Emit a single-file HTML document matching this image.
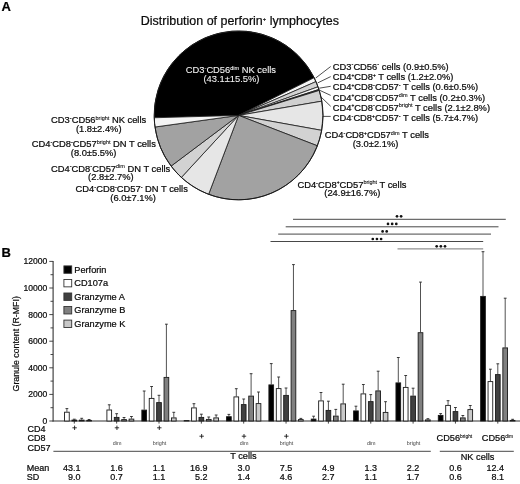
<!DOCTYPE html>
<html><head><meta charset="utf-8"><title>Figure</title>
<style>
html,body{margin:0;padding:0;background:#fff;}
body{width:520px;height:484px;overflow:hidden;font-family:"Liberation Sans",sans-serif;}
svg{display:block;will-change:transform;}
</style></head><body>
<svg width="520" height="484" viewBox="0 0 520 484">
<rect width="520" height="484" fill="#fff"/>
<path d="M238.60,115.40 L154.23,117.76 A84.4,84.4 0 0 1 314.13,77.74 Z" fill="#000000" stroke="#1a1a1a" stroke-width="0.8" stroke-linejoin="round"/>
<path d="M238.60,115.40 L314.13,77.74 A84.4,84.4 0 0 1 315.94,81.61 Z" fill="#f6f6f6" stroke="#1a1a1a" stroke-width="0.8" stroke-linejoin="round"/>
<path d="M238.60,115.40 L315.94,81.61 A84.4,84.4 0 0 1 318.01,86.81 Z" fill="#d2d2d2" stroke="#1a1a1a" stroke-width="0.8" stroke-linejoin="round"/>
<path d="M238.60,115.40 L318.01,86.81 A84.4,84.4 0 0 1 318.91,89.46 Z" fill="#f6f6f6" stroke="#1a1a1a" stroke-width="0.8" stroke-linejoin="round"/>
<path d="M238.60,115.40 L318.91,89.46 A84.4,84.4 0 0 1 319.23,90.44 Z" fill="#555555" stroke="#1a1a1a" stroke-width="0.8" stroke-linejoin="round"/>
<path d="M238.60,115.40 L319.23,90.44 A84.4,84.4 0 0 1 321.79,101.18 Z" fill="#d0d0d0" stroke="#1a1a1a" stroke-width="0.8" stroke-linejoin="round"/>
<path d="M238.60,115.40 L321.79,101.18 A84.4,84.4 0 0 1 321.67,130.35 Z" fill="#e6e6e6" stroke="#1a1a1a" stroke-width="0.8" stroke-linejoin="round"/>
<path d="M238.60,115.40 L321.67,130.35 A84.4,84.4 0 0 1 317.34,145.78 Z" fill="#d2d2d2" stroke="#1a1a1a" stroke-width="0.8" stroke-linejoin="round"/>
<path d="M238.60,115.40 L317.34,145.78 A84.4,84.4 0 0 1 208.63,194.30 Z" fill="#a2a2a2" stroke="#1a1a1a" stroke-width="0.8" stroke-linejoin="round"/>
<path d="M238.60,115.40 L208.63,194.30 A84.4,84.4 0 0 1 181.36,177.43 Z" fill="#e6e6e6" stroke="#1a1a1a" stroke-width="0.8" stroke-linejoin="round"/>
<path d="M238.60,115.40 L181.36,177.43 A84.4,84.4 0 0 1 171.11,166.08 Z" fill="#d2d2d2" stroke="#1a1a1a" stroke-width="0.8" stroke-linejoin="round"/>
<path d="M238.60,115.40 L171.11,166.08 A84.4,84.4 0 0 1 155.00,127.00 Z" fill="#a2a2a2" stroke="#1a1a1a" stroke-width="0.8" stroke-linejoin="round"/>
<path d="M238.60,115.40 L155.00,127.00 A84.4,84.4 0 0 1 154.23,117.76 Z" fill="#f4f4f4" stroke="#1a1a1a" stroke-width="0.8" stroke-linejoin="round"/>
<circle cx="238.6" cy="115.4" r="84.4" fill="none" stroke="#1a1a1a" stroke-width="1"/>
<line x1="315.6" y1="78.1" x2="330.7" y2="66.5" stroke="#222" stroke-width="0.8"/>
<line x1="317.7" y1="82.9" x2="330.7" y2="76.6" stroke="#222" stroke-width="0.8"/>
<line x1="319.2" y1="88.2" x2="330.7" y2="86.3" stroke="#222" stroke-width="0.8"/>
<line x1="319.9" y1="90.4" x2="330.7" y2="95.4" stroke="#222" stroke-width="0.8"/>
<line x1="320.9" y1="96.9" x2="330.7" y2="106.3" stroke="#222" stroke-width="0.8"/>
<line x1="322.8" y1="116.4" x2="330.7" y2="116.4" stroke="#222" stroke-width="0.8"/>
<text x="1.6" y="11.3" font-family="Liberation Sans, sans-serif" font-size="13" text-anchor="start" fill="#000" stroke="#000" stroke-width="0.22" font-weight="bold" xml:space="preserve" >A</text>
<text x="1.4" y="256.6" font-family="Liberation Sans, sans-serif" font-size="13" text-anchor="start" fill="#000" stroke="#000" stroke-width="0.22" font-weight="bold" xml:space="preserve" >B</text>
<text x="140.8" y="25.4" font-family="Liberation Sans, sans-serif" font-size="12.47" text-anchor="start" fill="#0a0a0a" stroke="#0a0a0a" stroke-width="0.22" font-weight="normal" xml:space="preserve" >Distribution of perforin<tspan font-size="5.8" dy="-4.80">+</tspan><tspan dy="4.80"> lymphocytes</tspan></text>
<text x="185.8" y="73.3" font-family="Liberation Sans, sans-serif" font-size="9.35" text-anchor="start" fill="#f4f4f4" stroke="#f4f4f4" stroke-width="0.08" font-weight="normal" xml:space="preserve" >CD3<tspan font-size="5.6" dy="-3.30">-</tspan><tspan dy="3.30">CD56</tspan><tspan font-size="5.5" dy="-3.40" stroke-width="0.08">dim</tspan><tspan dy="3.40"> NK cells</tspan></text>
<text x="231.4" y="82.2" font-family="Liberation Sans, sans-serif" font-size="9.35" text-anchor="middle" fill="#f4f4f4" stroke="#f4f4f4" stroke-width="0.08" font-weight="normal" xml:space="preserve" >(43.1±15.5%)</text>
<text x="332.8" y="69.7" font-family="Liberation Sans, sans-serif" font-size="9.35" text-anchor="start" fill="#0a0a0a" stroke="#0a0a0a" stroke-width="0.22" font-weight="normal" xml:space="preserve" >CD3<tspan font-size="5.6" dy="-3.30">-</tspan><tspan dy="3.30">CD56</tspan><tspan font-size="5.6" dy="-3.30">-</tspan><tspan dy="3.30"> cells (0.9±0.5%)</tspan></text>
<text x="332.8" y="80.0" font-family="Liberation Sans, sans-serif" font-size="9.35" text-anchor="start" fill="#0a0a0a" stroke="#0a0a0a" stroke-width="0.22" font-weight="normal" xml:space="preserve" >CD4<tspan font-size="4.8" dy="-3.40">+</tspan><tspan dy="3.40">CD8</tspan><tspan font-size="4.8" dy="-3.40">+</tspan><tspan dy="3.40"> T cells (1.2±2.0%)</tspan></text>
<text x="332.8" y="90.3" font-family="Liberation Sans, sans-serif" font-size="9.35" text-anchor="start" fill="#0a0a0a" stroke="#0a0a0a" stroke-width="0.22" font-weight="normal" xml:space="preserve" >CD4<tspan font-size="4.8" dy="-3.40">+</tspan><tspan dy="3.40">CD8</tspan><tspan font-size="5.6" dy="-3.30">-</tspan><tspan dy="3.30">CD57</tspan><tspan font-size="5.6" dy="-3.30">-</tspan><tspan dy="3.30"> T cells (0.6±0.5%)</tspan></text>
<text x="332.8" y="100.5" font-family="Liberation Sans, sans-serif" font-size="9.35" text-anchor="start" fill="#0a0a0a" stroke="#0a0a0a" stroke-width="0.22" font-weight="normal" xml:space="preserve" >CD4<tspan font-size="4.8" dy="-3.40">+</tspan><tspan dy="3.40">CD8</tspan><tspan font-size="5.6" dy="-3.30">-</tspan><tspan dy="3.30">CD57</tspan><tspan font-size="5.5" dy="-3.40" stroke-width="0.08">dim</tspan><tspan dy="3.40"> T cells (0.2±0.3%)</tspan></text>
<text x="332.8" y="110.7" font-family="Liberation Sans, sans-serif" font-size="9.35" text-anchor="start" fill="#0a0a0a" stroke="#0a0a0a" stroke-width="0.22" font-weight="normal" xml:space="preserve" >CD4<tspan font-size="4.8" dy="-3.40">+</tspan><tspan dy="3.40">CD8</tspan><tspan font-size="5.6" dy="-3.30">-</tspan><tspan dy="3.30">CD57</tspan><tspan font-size="5.5" dy="-3.40" stroke-width="0.08">bright</tspan><tspan dy="3.40"> T cells (2.1±2.8%)</tspan></text>
<text x="332.8" y="120.9" font-family="Liberation Sans, sans-serif" font-size="9.35" text-anchor="start" fill="#0a0a0a" stroke="#0a0a0a" stroke-width="0.22" font-weight="normal" xml:space="preserve" >CD4<tspan font-size="5.6" dy="-3.30">-</tspan><tspan dy="3.30">CD8</tspan><tspan font-size="4.8" dy="-3.40">+</tspan><tspan dy="3.40">CD57</tspan><tspan font-size="5.6" dy="-3.30">-</tspan><tspan dy="3.30"> T cells (5.7±4.7%)</tspan></text>
<text x="324.8" y="138.4" font-family="Liberation Sans, sans-serif" font-size="9.35" text-anchor="start" fill="#0a0a0a" stroke="#0a0a0a" stroke-width="0.22" font-weight="normal" xml:space="preserve" >CD4<tspan font-size="5.6" dy="-3.30">-</tspan><tspan dy="3.30">CD8</tspan><tspan font-size="4.8" dy="-3.40">+</tspan><tspan dy="3.40">CD57</tspan><tspan font-size="5.5" dy="-3.40" stroke-width="0.08">dim</tspan><tspan dy="3.40"> T cells</tspan></text>
<text x="375.5" y="146.7" font-family="Liberation Sans, sans-serif" font-size="9.35" text-anchor="middle" fill="#0a0a0a" stroke="#0a0a0a" stroke-width="0.22" font-weight="normal" xml:space="preserve" >(3.0±2.1%)</text>
<text x="297.4" y="187.8" font-family="Liberation Sans, sans-serif" font-size="9.35" text-anchor="start" fill="#0a0a0a" stroke="#0a0a0a" stroke-width="0.22" font-weight="normal" xml:space="preserve" >CD4<tspan font-size="5.6" dy="-3.30">-</tspan><tspan dy="3.30">CD8</tspan><tspan font-size="4.8" dy="-3.40">+</tspan><tspan dy="3.40">CD57</tspan><tspan font-size="5.5" dy="-3.40" stroke-width="0.08">bright</tspan><tspan dy="3.40"> T cells</tspan></text>
<text x="352.3" y="196.3" font-family="Liberation Sans, sans-serif" font-size="9.35" text-anchor="middle" fill="#0a0a0a" stroke="#0a0a0a" stroke-width="0.22" font-weight="normal" xml:space="preserve" >(24.9±16.7%)</text>
<text x="51.1" y="122.9" font-family="Liberation Sans, sans-serif" font-size="9.35" text-anchor="start" fill="#0a0a0a" stroke="#0a0a0a" stroke-width="0.22" font-weight="normal" xml:space="preserve" >CD3<tspan font-size="5.6" dy="-3.30">-</tspan><tspan dy="3.30">CD56</tspan><tspan font-size="5.5" dy="-3.40" stroke-width="0.08">bright</tspan><tspan dy="3.40"> NK cells</tspan></text>
<text x="98.7" y="131.6" font-family="Liberation Sans, sans-serif" font-size="9.35" text-anchor="middle" fill="#0a0a0a" stroke="#0a0a0a" stroke-width="0.22" font-weight="normal" xml:space="preserve" >(1.8±2.4%)</text>
<text x="31.7" y="147.2" font-family="Liberation Sans, sans-serif" font-size="9.35" text-anchor="start" fill="#0a0a0a" stroke="#0a0a0a" stroke-width="0.22" font-weight="normal" xml:space="preserve" >CD4<tspan font-size="5.6" dy="-3.30">-</tspan><tspan dy="3.30">CD8</tspan><tspan font-size="5.6" dy="-3.30">-</tspan><tspan dy="3.30">CD57</tspan><tspan font-size="5.5" dy="-3.40" stroke-width="0.08">bright</tspan><tspan dy="3.40"> DN T cells</tspan></text>
<text x="93.6" y="155.9" font-family="Liberation Sans, sans-serif" font-size="9.35" text-anchor="middle" fill="#0a0a0a" stroke="#0a0a0a" stroke-width="0.22" font-weight="normal" xml:space="preserve" >(8.0±5.5%)</text>
<text x="51.0" y="171.7" font-family="Liberation Sans, sans-serif" font-size="9.35" text-anchor="start" fill="#0a0a0a" stroke="#0a0a0a" stroke-width="0.22" font-weight="normal" xml:space="preserve" >CD4<tspan font-size="5.6" dy="-3.30">-</tspan><tspan dy="3.30">CD8</tspan><tspan font-size="5.6" dy="-3.30">-</tspan><tspan dy="3.30">CD57</tspan><tspan font-size="5.5" dy="-3.40" stroke-width="0.08">dim</tspan><tspan dy="3.40"> DN T cells</tspan></text>
<text x="110.9" y="180.1" font-family="Liberation Sans, sans-serif" font-size="9.35" text-anchor="middle" fill="#0a0a0a" stroke="#0a0a0a" stroke-width="0.22" font-weight="normal" xml:space="preserve" >(2.8±2.7%)</text>
<text x="75.6" y="192.1" font-family="Liberation Sans, sans-serif" font-size="9.35" text-anchor="start" fill="#0a0a0a" stroke="#0a0a0a" stroke-width="0.22" font-weight="normal" xml:space="preserve" >CD4<tspan font-size="5.6" dy="-3.30">-</tspan><tspan dy="3.30">CD8</tspan><tspan font-size="5.6" dy="-3.30">-</tspan><tspan dy="3.30">CD57</tspan><tspan font-size="5.6" dy="-3.30">-</tspan><tspan dy="3.30"> DN T cells</tspan></text>
<text x="133.1" y="200.8" font-family="Liberation Sans, sans-serif" font-size="9.35" text-anchor="middle" fill="#0a0a0a" stroke="#0a0a0a" stroke-width="0.22" font-weight="normal" xml:space="preserve" >(6.0±7.1%)</text>
<line x1="293.0" y1="219.3" x2="505.8" y2="219.3" stroke="#333" stroke-width="0.9"/>
<circle cx="397.0" cy="216.3" r="1.35" fill="#111"/>
<circle cx="401.1" cy="216.3" r="1.35" fill="#111"/>
<line x1="285.7" y1="226.8" x2="498.5" y2="226.8" stroke="#333" stroke-width="0.9"/>
<circle cx="388.0" cy="223.9" r="1.35" fill="#111"/>
<circle cx="392.15" cy="223.9" r="1.35" fill="#111"/>
<circle cx="396.3" cy="223.9" r="1.35" fill="#111"/>
<line x1="278.2" y1="234.1" x2="491.0" y2="234.1" stroke="#333" stroke-width="0.9"/>
<circle cx="382.6" cy="231.4" r="1.35" fill="#111"/>
<circle cx="386.7" cy="231.4" r="1.35" fill="#111"/>
<line x1="270.5" y1="241.5" x2="483.2" y2="241.5" stroke="#333" stroke-width="0.9"/>
<circle cx="372.8" cy="239.0" r="1.35" fill="#111"/>
<circle cx="376.95" cy="239.0" r="1.35" fill="#111"/>
<circle cx="381.1" cy="239.0" r="1.35" fill="#111"/>
<line x1="397.5" y1="248.9" x2="483.2" y2="248.9" stroke="#666" stroke-width="0.9"/>
<circle cx="436.7" cy="246.3" r="1.35" fill="#111"/>
<circle cx="440.85" cy="246.3" r="1.35" fill="#111"/>
<circle cx="445.0" cy="246.3" r="1.35" fill="#111"/>
<line x1="53.1" y1="261.0" x2="53.1" y2="421.5" stroke="#333" stroke-width="1.1"/>
<line x1="52.6" y1="421.0" x2="520" y2="421.0" stroke="#333" stroke-width="1.1"/>
<line x1="49.300000000000004" y1="421.00" x2="53.1" y2="421.00" stroke="#333" stroke-width="0.9"/>
<text x="47.2" y="424.05" font-family="Liberation Sans, sans-serif" font-size="8.55" text-anchor="end" fill="#0a0a0a" stroke="#0a0a0a" stroke-width="0.22" font-weight="normal" xml:space="preserve" >0</text>
<line x1="50.5" y1="407.70" x2="53.1" y2="407.70" stroke="#333" stroke-width="0.9"/>
<line x1="49.300000000000004" y1="394.40" x2="53.1" y2="394.40" stroke="#333" stroke-width="0.9"/>
<text x="47.2" y="397.45" font-family="Liberation Sans, sans-serif" font-size="8.55" text-anchor="end" fill="#0a0a0a" stroke="#0a0a0a" stroke-width="0.22" font-weight="normal" xml:space="preserve" >2000</text>
<line x1="50.5" y1="381.10" x2="53.1" y2="381.10" stroke="#333" stroke-width="0.9"/>
<line x1="49.300000000000004" y1="367.80" x2="53.1" y2="367.80" stroke="#333" stroke-width="0.9"/>
<text x="47.2" y="370.85" font-family="Liberation Sans, sans-serif" font-size="8.55" text-anchor="end" fill="#0a0a0a" stroke="#0a0a0a" stroke-width="0.22" font-weight="normal" xml:space="preserve" >4000</text>
<line x1="50.5" y1="354.50" x2="53.1" y2="354.50" stroke="#333" stroke-width="0.9"/>
<line x1="49.300000000000004" y1="341.20" x2="53.1" y2="341.20" stroke="#333" stroke-width="0.9"/>
<text x="47.2" y="344.25" font-family="Liberation Sans, sans-serif" font-size="8.55" text-anchor="end" fill="#0a0a0a" stroke="#0a0a0a" stroke-width="0.22" font-weight="normal" xml:space="preserve" >6000</text>
<line x1="50.5" y1="327.90" x2="53.1" y2="327.90" stroke="#333" stroke-width="0.9"/>
<line x1="49.300000000000004" y1="314.60" x2="53.1" y2="314.60" stroke="#333" stroke-width="0.9"/>
<text x="47.2" y="317.65000000000003" font-family="Liberation Sans, sans-serif" font-size="8.55" text-anchor="end" fill="#0a0a0a" stroke="#0a0a0a" stroke-width="0.22" font-weight="normal" xml:space="preserve" >8000</text>
<line x1="50.5" y1="301.30" x2="53.1" y2="301.30" stroke="#333" stroke-width="0.9"/>
<line x1="49.300000000000004" y1="288.00" x2="53.1" y2="288.00" stroke="#333" stroke-width="0.9"/>
<text x="47.2" y="291.05" font-family="Liberation Sans, sans-serif" font-size="8.55" text-anchor="end" fill="#0a0a0a" stroke="#0a0a0a" stroke-width="0.22" font-weight="normal" xml:space="preserve" >10000</text>
<line x1="50.5" y1="274.70" x2="53.1" y2="274.70" stroke="#333" stroke-width="0.9"/>
<line x1="49.300000000000004" y1="261.40" x2="53.1" y2="261.40" stroke="#333" stroke-width="0.9"/>
<text x="47.2" y="264.45" font-family="Liberation Sans, sans-serif" font-size="8.55" text-anchor="end" fill="#0a0a0a" stroke="#0a0a0a" stroke-width="0.22" font-weight="normal" xml:space="preserve" >12000</text>
<text transform="translate(18.6,343.8) rotate(-90)" font-family="Liberation Sans, sans-serif" font-size="8.8" text-anchor="middle" fill="#0a0a0a" stroke="#0a0a0a" stroke-width="0.2">Granule content (R-MFI)</text>
<rect x="63.9" y="265.90" width="7.8" height="7.4" fill="#000" stroke="#333" stroke-width="0.9"/>
<text x="74.3" y="272.8" font-family="Liberation Sans, sans-serif" font-size="9.2" text-anchor="start" fill="#0a0a0a" stroke="#0a0a0a" stroke-width="0.22" font-weight="normal" xml:space="preserve" >Perforin</text>
<rect x="63.9" y="279.45" width="7.8" height="7.4" fill="#fff" stroke="#333" stroke-width="0.9"/>
<text x="74.3" y="286.35" font-family="Liberation Sans, sans-serif" font-size="9.2" text-anchor="start" fill="#0a0a0a" stroke="#0a0a0a" stroke-width="0.22" font-weight="normal" xml:space="preserve" >CD107a</text>
<rect x="63.9" y="293.00" width="7.8" height="7.4" fill="#404040" stroke="#333" stroke-width="0.9"/>
<text x="74.3" y="299.90000000000003" font-family="Liberation Sans, sans-serif" font-size="9.2" text-anchor="start" fill="#0a0a0a" stroke="#0a0a0a" stroke-width="0.22" font-weight="normal" xml:space="preserve" >Granzyme A</text>
<rect x="63.9" y="306.55" width="7.8" height="7.4" fill="#808080" stroke="#333" stroke-width="0.9"/>
<text x="74.3" y="313.45" font-family="Liberation Sans, sans-serif" font-size="9.2" text-anchor="start" fill="#0a0a0a" stroke="#0a0a0a" stroke-width="0.22" font-weight="normal" xml:space="preserve" >Granzyme B</text>
<rect x="63.9" y="320.10" width="7.8" height="7.4" fill="#c8c8c8" stroke="#333" stroke-width="0.9"/>
<text x="74.3" y="327.0" font-family="Liberation Sans, sans-serif" font-size="9.2" text-anchor="start" fill="#0a0a0a" stroke="#0a0a0a" stroke-width="0.22" font-weight="normal" xml:space="preserve" >Granzyme K</text>
<line x1="74.30" y1="421.0" x2="74.30" y2="423.6" stroke="#333" stroke-width="0.9"/>
<line x1="66.90" y1="411.80" x2="66.90" y2="408.60" stroke="#262626" stroke-width="0.8"/>
<line x1="65.50" y1="408.60" x2="68.30" y2="408.60" stroke="#262626" stroke-width="0.9"/>
<rect x="64.55" y="412.20" width="4.70" height="8.80" fill="#fff" stroke="#1a1a1a" stroke-width="0.9"/>
<line x1="74.30" y1="419.70" x2="74.30" y2="419.20" stroke="#262626" stroke-width="0.8"/>
<line x1="72.90" y1="419.20" x2="75.70" y2="419.20" stroke="#262626" stroke-width="0.9"/>
<rect x="71.95" y="420.10" width="4.70" height="0.90" fill="#404040" stroke="#1a1a1a" stroke-width="0.9"/>
<line x1="81.70" y1="419.70" x2="81.70" y2="418.30" stroke="#262626" stroke-width="0.8"/>
<line x1="80.30" y1="418.30" x2="83.10" y2="418.30" stroke="#262626" stroke-width="0.9"/>
<rect x="79.35" y="420.10" width="4.70" height="0.90" fill="#808080" stroke="#1a1a1a" stroke-width="0.9"/>
<line x1="89.10" y1="420.00" x2="89.10" y2="419.50" stroke="#262626" stroke-width="0.8"/>
<line x1="87.70" y1="419.50" x2="90.50" y2="419.50" stroke="#262626" stroke-width="0.9"/>
<rect x="86.75" y="420.40" width="4.70" height="0.60" fill="#cacaca" stroke="#1a1a1a" stroke-width="0.9"/>
<line x1="116.65" y1="421.0" x2="116.65" y2="423.6" stroke="#333" stroke-width="0.9"/>
<line x1="109.25" y1="409.60" x2="109.25" y2="404.80" stroke="#262626" stroke-width="0.8"/>
<line x1="107.85" y1="404.80" x2="110.65" y2="404.80" stroke="#262626" stroke-width="0.9"/>
<rect x="106.90" y="410.00" width="4.70" height="11.00" fill="#fff" stroke="#1a1a1a" stroke-width="0.9"/>
<line x1="116.65" y1="417.00" x2="116.65" y2="413.70" stroke="#262626" stroke-width="0.8"/>
<line x1="115.25" y1="413.70" x2="118.05" y2="413.70" stroke="#262626" stroke-width="0.9"/>
<rect x="114.30" y="417.40" width="4.70" height="3.60" fill="#404040" stroke="#1a1a1a" stroke-width="0.9"/>
<line x1="124.05" y1="419.20" x2="124.05" y2="417.50" stroke="#262626" stroke-width="0.8"/>
<line x1="122.65" y1="417.50" x2="125.45" y2="417.50" stroke="#262626" stroke-width="0.9"/>
<rect x="121.70" y="419.60" width="4.70" height="1.40" fill="#808080" stroke="#1a1a1a" stroke-width="0.9"/>
<line x1="131.45" y1="418.70" x2="131.45" y2="416.50" stroke="#262626" stroke-width="0.8"/>
<line x1="130.05" y1="416.50" x2="132.85" y2="416.50" stroke="#262626" stroke-width="0.9"/>
<rect x="129.10" y="419.10" width="4.70" height="1.90" fill="#cacaca" stroke="#1a1a1a" stroke-width="0.9"/>
<line x1="159.00" y1="421.0" x2="159.00" y2="423.6" stroke="#333" stroke-width="0.9"/>
<line x1="144.20" y1="409.70" x2="144.20" y2="391.00" stroke="#262626" stroke-width="0.8"/>
<line x1="142.80" y1="391.00" x2="145.60" y2="391.00" stroke="#262626" stroke-width="0.9"/>
<rect x="141.85" y="410.10" width="4.70" height="10.90" fill="#000" stroke="#1a1a1a" stroke-width="0.9"/>
<line x1="151.60" y1="398.00" x2="151.60" y2="386.50" stroke="#262626" stroke-width="0.8"/>
<line x1="150.20" y1="386.50" x2="153.00" y2="386.50" stroke="#262626" stroke-width="0.9"/>
<rect x="149.25" y="398.40" width="4.70" height="22.60" fill="#fff" stroke="#1a1a1a" stroke-width="0.9"/>
<line x1="159.00" y1="402.20" x2="159.00" y2="395.30" stroke="#262626" stroke-width="0.8"/>
<line x1="157.60" y1="395.30" x2="160.40" y2="395.30" stroke="#262626" stroke-width="0.9"/>
<rect x="156.65" y="402.60" width="4.70" height="18.40" fill="#404040" stroke="#1a1a1a" stroke-width="0.9"/>
<line x1="166.40" y1="377.00" x2="166.40" y2="324.20" stroke="#262626" stroke-width="0.8"/>
<line x1="165.00" y1="324.20" x2="167.80" y2="324.20" stroke="#262626" stroke-width="0.9"/>
<rect x="164.05" y="377.40" width="4.70" height="43.60" fill="#808080" stroke="#1a1a1a" stroke-width="0.9"/>
<line x1="173.80" y1="417.50" x2="173.80" y2="412.30" stroke="#262626" stroke-width="0.8"/>
<line x1="172.40" y1="412.30" x2="175.20" y2="412.30" stroke="#262626" stroke-width="0.9"/>
<rect x="171.45" y="417.90" width="4.70" height="3.10" fill="#cacaca" stroke="#1a1a1a" stroke-width="0.9"/>
<line x1="201.35" y1="421.0" x2="201.35" y2="423.6" stroke="#333" stroke-width="0.9"/>
<rect x="184.20" y="420.60" width="4.70" height="0.40" fill="#000" stroke="#1a1a1a" stroke-width="0.9"/>
<line x1="193.95" y1="407.50" x2="193.95" y2="403.70" stroke="#262626" stroke-width="0.8"/>
<line x1="192.55" y1="403.70" x2="195.35" y2="403.70" stroke="#262626" stroke-width="0.9"/>
<rect x="191.60" y="407.90" width="4.70" height="13.10" fill="#fff" stroke="#1a1a1a" stroke-width="0.9"/>
<line x1="201.35" y1="417.00" x2="201.35" y2="414.20" stroke="#262626" stroke-width="0.8"/>
<line x1="199.95" y1="414.20" x2="202.75" y2="414.20" stroke="#262626" stroke-width="0.9"/>
<rect x="199.00" y="417.40" width="4.70" height="3.60" fill="#404040" stroke="#1a1a1a" stroke-width="0.9"/>
<line x1="208.75" y1="419.00" x2="208.75" y2="417.00" stroke="#262626" stroke-width="0.8"/>
<line x1="207.35" y1="417.00" x2="210.15" y2="417.00" stroke="#262626" stroke-width="0.9"/>
<rect x="206.40" y="419.40" width="4.70" height="1.60" fill="#808080" stroke="#1a1a1a" stroke-width="0.9"/>
<line x1="216.15" y1="417.50" x2="216.15" y2="415.00" stroke="#262626" stroke-width="0.8"/>
<line x1="214.75" y1="415.00" x2="217.55" y2="415.00" stroke="#262626" stroke-width="0.9"/>
<rect x="213.80" y="417.90" width="4.70" height="3.10" fill="#cacaca" stroke="#1a1a1a" stroke-width="0.9"/>
<line x1="243.70" y1="421.0" x2="243.70" y2="423.6" stroke="#333" stroke-width="0.9"/>
<line x1="228.90" y1="416.30" x2="228.90" y2="414.40" stroke="#262626" stroke-width="0.8"/>
<line x1="227.50" y1="414.40" x2="230.30" y2="414.40" stroke="#262626" stroke-width="0.9"/>
<rect x="226.55" y="416.70" width="4.70" height="4.30" fill="#000" stroke="#1a1a1a" stroke-width="0.9"/>
<line x1="236.30" y1="396.50" x2="236.30" y2="388.70" stroke="#262626" stroke-width="0.8"/>
<line x1="234.90" y1="388.70" x2="237.70" y2="388.70" stroke="#262626" stroke-width="0.9"/>
<rect x="233.95" y="396.90" width="4.70" height="24.10" fill="#fff" stroke="#1a1a1a" stroke-width="0.9"/>
<line x1="243.70" y1="404.20" x2="243.70" y2="399.00" stroke="#262626" stroke-width="0.8"/>
<line x1="242.30" y1="399.00" x2="245.10" y2="399.00" stroke="#262626" stroke-width="0.9"/>
<rect x="241.35" y="404.60" width="4.70" height="16.40" fill="#404040" stroke="#1a1a1a" stroke-width="0.9"/>
<line x1="251.10" y1="395.70" x2="251.10" y2="373.70" stroke="#262626" stroke-width="0.8"/>
<line x1="249.70" y1="373.70" x2="252.50" y2="373.70" stroke="#262626" stroke-width="0.9"/>
<rect x="248.75" y="396.10" width="4.70" height="24.90" fill="#808080" stroke="#1a1a1a" stroke-width="0.9"/>
<line x1="258.50" y1="403.20" x2="258.50" y2="392.00" stroke="#262626" stroke-width="0.8"/>
<line x1="257.10" y1="392.00" x2="259.90" y2="392.00" stroke="#262626" stroke-width="0.9"/>
<rect x="256.15" y="403.60" width="4.70" height="17.40" fill="#cacaca" stroke="#1a1a1a" stroke-width="0.9"/>
<line x1="286.05" y1="421.0" x2="286.05" y2="423.6" stroke="#333" stroke-width="0.9"/>
<line x1="271.25" y1="384.50" x2="271.25" y2="363.60" stroke="#262626" stroke-width="0.8"/>
<line x1="269.85" y1="363.60" x2="272.65" y2="363.60" stroke="#262626" stroke-width="0.9"/>
<rect x="268.90" y="384.90" width="4.70" height="36.10" fill="#000" stroke="#1a1a1a" stroke-width="0.9"/>
<line x1="278.65" y1="388.20" x2="278.65" y2="377.00" stroke="#262626" stroke-width="0.8"/>
<line x1="277.25" y1="377.00" x2="280.05" y2="377.00" stroke="#262626" stroke-width="0.9"/>
<rect x="276.30" y="388.60" width="4.70" height="32.40" fill="#fff" stroke="#1a1a1a" stroke-width="0.9"/>
<line x1="286.05" y1="395.00" x2="286.05" y2="388.00" stroke="#262626" stroke-width="0.8"/>
<line x1="284.65" y1="388.00" x2="287.45" y2="388.00" stroke="#262626" stroke-width="0.9"/>
<rect x="283.70" y="395.40" width="4.70" height="25.60" fill="#404040" stroke="#1a1a1a" stroke-width="0.9"/>
<line x1="293.45" y1="310.20" x2="293.45" y2="264.60" stroke="#262626" stroke-width="0.8"/>
<line x1="292.05" y1="264.60" x2="294.85" y2="264.60" stroke="#262626" stroke-width="0.9"/>
<rect x="291.10" y="310.60" width="4.70" height="110.40" fill="#808080" stroke="#1a1a1a" stroke-width="0.9"/>
<line x1="300.85" y1="419.20" x2="300.85" y2="418.40" stroke="#262626" stroke-width="0.8"/>
<line x1="299.45" y1="418.40" x2="302.25" y2="418.40" stroke="#262626" stroke-width="0.9"/>
<rect x="298.50" y="419.60" width="4.70" height="1.40" fill="#cacaca" stroke="#1a1a1a" stroke-width="0.9"/>
<line x1="328.40" y1="421.0" x2="328.40" y2="423.6" stroke="#333" stroke-width="0.9"/>
<line x1="313.60" y1="418.70" x2="313.60" y2="416.20" stroke="#262626" stroke-width="0.8"/>
<line x1="312.20" y1="416.20" x2="315.00" y2="416.20" stroke="#262626" stroke-width="0.9"/>
<rect x="311.25" y="419.10" width="4.70" height="1.90" fill="#000" stroke="#1a1a1a" stroke-width="0.9"/>
<line x1="321.00" y1="400.50" x2="321.00" y2="392.50" stroke="#262626" stroke-width="0.8"/>
<line x1="319.60" y1="392.50" x2="322.40" y2="392.50" stroke="#262626" stroke-width="0.9"/>
<rect x="318.65" y="400.90" width="4.70" height="20.10" fill="#fff" stroke="#1a1a1a" stroke-width="0.9"/>
<line x1="328.40" y1="410.00" x2="328.40" y2="401.20" stroke="#262626" stroke-width="0.8"/>
<line x1="327.00" y1="401.20" x2="329.80" y2="401.20" stroke="#262626" stroke-width="0.9"/>
<rect x="326.05" y="410.40" width="4.70" height="10.60" fill="#404040" stroke="#1a1a1a" stroke-width="0.9"/>
<line x1="335.80" y1="415.70" x2="335.80" y2="409.40" stroke="#262626" stroke-width="0.8"/>
<line x1="334.40" y1="409.40" x2="337.20" y2="409.40" stroke="#262626" stroke-width="0.9"/>
<rect x="333.45" y="416.10" width="4.70" height="4.90" fill="#808080" stroke="#1a1a1a" stroke-width="0.9"/>
<line x1="343.20" y1="403.50" x2="343.20" y2="384.20" stroke="#262626" stroke-width="0.8"/>
<line x1="341.80" y1="384.20" x2="344.60" y2="384.20" stroke="#262626" stroke-width="0.9"/>
<rect x="340.85" y="403.90" width="4.70" height="17.10" fill="#cacaca" stroke="#1a1a1a" stroke-width="0.9"/>
<line x1="370.75" y1="421.0" x2="370.75" y2="423.6" stroke="#333" stroke-width="0.9"/>
<line x1="355.95" y1="410.50" x2="355.95" y2="406.20" stroke="#262626" stroke-width="0.8"/>
<line x1="354.55" y1="406.20" x2="357.35" y2="406.20" stroke="#262626" stroke-width="0.9"/>
<rect x="353.60" y="410.90" width="4.70" height="10.10" fill="#000" stroke="#1a1a1a" stroke-width="0.9"/>
<line x1="363.35" y1="393.50" x2="363.35" y2="384.50" stroke="#262626" stroke-width="0.8"/>
<line x1="361.95" y1="384.50" x2="364.75" y2="384.50" stroke="#262626" stroke-width="0.9"/>
<rect x="361.00" y="393.90" width="4.70" height="27.10" fill="#fff" stroke="#1a1a1a" stroke-width="0.9"/>
<line x1="370.75" y1="401.20" x2="370.75" y2="394.60" stroke="#262626" stroke-width="0.8"/>
<line x1="369.35" y1="394.60" x2="372.15" y2="394.60" stroke="#262626" stroke-width="0.9"/>
<rect x="368.40" y="401.60" width="4.70" height="19.40" fill="#404040" stroke="#1a1a1a" stroke-width="0.9"/>
<line x1="378.15" y1="390.50" x2="378.15" y2="371.20" stroke="#262626" stroke-width="0.8"/>
<line x1="376.75" y1="371.20" x2="379.55" y2="371.20" stroke="#262626" stroke-width="0.9"/>
<rect x="375.80" y="390.90" width="4.70" height="30.10" fill="#808080" stroke="#1a1a1a" stroke-width="0.9"/>
<line x1="385.55" y1="412.00" x2="385.55" y2="401.70" stroke="#262626" stroke-width="0.8"/>
<line x1="384.15" y1="401.70" x2="386.95" y2="401.70" stroke="#262626" stroke-width="0.9"/>
<rect x="383.20" y="412.40" width="4.70" height="8.60" fill="#cacaca" stroke="#1a1a1a" stroke-width="0.9"/>
<line x1="413.10" y1="421.0" x2="413.10" y2="423.6" stroke="#333" stroke-width="0.9"/>
<line x1="398.30" y1="382.50" x2="398.30" y2="357.50" stroke="#262626" stroke-width="0.8"/>
<line x1="396.90" y1="357.50" x2="399.70" y2="357.50" stroke="#262626" stroke-width="0.9"/>
<rect x="395.95" y="382.90" width="4.70" height="38.10" fill="#000" stroke="#1a1a1a" stroke-width="0.9"/>
<line x1="405.70" y1="387.00" x2="405.70" y2="375.50" stroke="#262626" stroke-width="0.8"/>
<line x1="404.30" y1="375.50" x2="407.10" y2="375.50" stroke="#262626" stroke-width="0.9"/>
<rect x="403.35" y="387.40" width="4.70" height="33.60" fill="#fff" stroke="#1a1a1a" stroke-width="0.9"/>
<line x1="413.10" y1="395.70" x2="413.10" y2="388.20" stroke="#262626" stroke-width="0.8"/>
<line x1="411.70" y1="388.20" x2="414.50" y2="388.20" stroke="#262626" stroke-width="0.9"/>
<rect x="410.75" y="396.10" width="4.70" height="24.90" fill="#404040" stroke="#1a1a1a" stroke-width="0.9"/>
<line x1="420.50" y1="332.30" x2="420.50" y2="282.10" stroke="#262626" stroke-width="0.8"/>
<line x1="419.10" y1="282.10" x2="421.90" y2="282.10" stroke="#262626" stroke-width="0.9"/>
<rect x="418.15" y="332.70" width="4.70" height="88.30" fill="#808080" stroke="#1a1a1a" stroke-width="0.9"/>
<line x1="427.90" y1="419.50" x2="427.90" y2="418.70" stroke="#262626" stroke-width="0.8"/>
<line x1="426.50" y1="418.70" x2="429.30" y2="418.70" stroke="#262626" stroke-width="0.9"/>
<rect x="425.55" y="419.90" width="4.70" height="1.10" fill="#cacaca" stroke="#1a1a1a" stroke-width="0.9"/>
<line x1="455.45" y1="421.0" x2="455.45" y2="423.6" stroke="#333" stroke-width="0.9"/>
<line x1="440.65" y1="415.00" x2="440.65" y2="413.60" stroke="#262626" stroke-width="0.8"/>
<line x1="439.25" y1="413.60" x2="442.05" y2="413.60" stroke="#262626" stroke-width="0.9"/>
<rect x="438.30" y="415.40" width="4.70" height="5.60" fill="#000" stroke="#1a1a1a" stroke-width="0.9"/>
<line x1="448.05" y1="405.00" x2="448.05" y2="400.70" stroke="#262626" stroke-width="0.8"/>
<line x1="446.65" y1="400.70" x2="449.45" y2="400.70" stroke="#262626" stroke-width="0.9"/>
<rect x="445.70" y="405.40" width="4.70" height="15.60" fill="#fff" stroke="#1a1a1a" stroke-width="0.9"/>
<line x1="455.45" y1="411.20" x2="455.45" y2="407.50" stroke="#262626" stroke-width="0.8"/>
<line x1="454.05" y1="407.50" x2="456.85" y2="407.50" stroke="#262626" stroke-width="0.9"/>
<rect x="453.10" y="411.60" width="4.70" height="9.40" fill="#404040" stroke="#1a1a1a" stroke-width="0.9"/>
<line x1="462.85" y1="417.50" x2="462.85" y2="415.50" stroke="#262626" stroke-width="0.8"/>
<line x1="461.45" y1="415.50" x2="464.25" y2="415.50" stroke="#262626" stroke-width="0.9"/>
<rect x="460.50" y="417.90" width="4.70" height="3.10" fill="#808080" stroke="#1a1a1a" stroke-width="0.9"/>
<line x1="470.25" y1="409.20" x2="470.25" y2="405.50" stroke="#262626" stroke-width="0.8"/>
<line x1="468.85" y1="405.50" x2="471.65" y2="405.50" stroke="#262626" stroke-width="0.9"/>
<rect x="467.90" y="409.60" width="4.70" height="11.40" fill="#cacaca" stroke="#1a1a1a" stroke-width="0.9"/>
<line x1="497.80" y1="421.0" x2="497.80" y2="423.6" stroke="#333" stroke-width="0.9"/>
<line x1="483.00" y1="296.00" x2="483.00" y2="251.70" stroke="#262626" stroke-width="0.8"/>
<line x1="481.60" y1="251.70" x2="484.40" y2="251.70" stroke="#262626" stroke-width="0.9"/>
<rect x="480.65" y="296.40" width="4.70" height="124.60" fill="#000" stroke="#1a1a1a" stroke-width="0.9"/>
<line x1="490.40" y1="381.20" x2="490.40" y2="369.20" stroke="#262626" stroke-width="0.8"/>
<line x1="489.00" y1="369.20" x2="491.80" y2="369.20" stroke="#262626" stroke-width="0.9"/>
<rect x="488.05" y="381.60" width="4.70" height="39.40" fill="#fff" stroke="#1a1a1a" stroke-width="0.9"/>
<line x1="497.80" y1="374.20" x2="497.80" y2="363.80" stroke="#262626" stroke-width="0.8"/>
<line x1="496.40" y1="363.80" x2="499.20" y2="363.80" stroke="#262626" stroke-width="0.9"/>
<rect x="495.45" y="374.60" width="4.70" height="46.40" fill="#404040" stroke="#1a1a1a" stroke-width="0.9"/>
<line x1="505.20" y1="347.50" x2="505.20" y2="298.20" stroke="#262626" stroke-width="0.8"/>
<line x1="503.80" y1="298.20" x2="506.60" y2="298.20" stroke="#262626" stroke-width="0.9"/>
<rect x="502.85" y="347.90" width="4.70" height="73.10" fill="#808080" stroke="#1a1a1a" stroke-width="0.9"/>
<line x1="512.60" y1="420.00" x2="512.60" y2="419.30" stroke="#262626" stroke-width="0.8"/>
<line x1="511.20" y1="419.30" x2="514.00" y2="419.30" stroke="#262626" stroke-width="0.9"/>
<rect x="510.25" y="420.40" width="4.70" height="0.60" fill="#cacaca" stroke="#1a1a1a" stroke-width="0.9"/>
<text x="27.5" y="432.3" font-family="Liberation Sans, sans-serif" font-size="9.0" text-anchor="start" fill="#0a0a0a" stroke="#0a0a0a" stroke-width="0.22" font-weight="normal" xml:space="preserve" >CD4</text>
<text x="27.5" y="441.0" font-family="Liberation Sans, sans-serif" font-size="9.0" text-anchor="start" fill="#0a0a0a" stroke="#0a0a0a" stroke-width="0.22" font-weight="normal" xml:space="preserve" >CD8</text>
<text x="27.5" y="450.6" font-family="Liberation Sans, sans-serif" font-size="9.0" text-anchor="start" fill="#0a0a0a" stroke="#0a0a0a" stroke-width="0.22" font-weight="normal" xml:space="preserve" >CD57</text>
<line x1="53.4" y1="451.3" x2="430.8" y2="451.3" stroke="#333" stroke-width="0.9"/>
<line x1="439.8" y1="451.3" x2="513.8" y2="451.3" stroke="#333" stroke-width="0.9"/>
<text x="26.8" y="470.5" font-family="Liberation Sans, sans-serif" font-size="9.0" text-anchor="start" fill="#0a0a0a" stroke="#0a0a0a" stroke-width="0.22" font-weight="normal" xml:space="preserve" >Mean</text>
<text x="26.8" y="480.2" font-family="Liberation Sans, sans-serif" font-size="9.0" text-anchor="start" fill="#0a0a0a" stroke="#0a0a0a" stroke-width="0.22" font-weight="normal" xml:space="preserve" >SD</text>
<text x="243.4" y="459.2" font-family="Liberation Sans, sans-serif" font-size="9.2" text-anchor="middle" fill="#0a0a0a" stroke="#0a0a0a" stroke-width="0.22" font-weight="normal" xml:space="preserve" >T cells</text>
<text x="477.6" y="460.1" font-family="Liberation Sans, sans-serif" font-size="9.2" text-anchor="middle" fill="#0a0a0a" stroke="#0a0a0a" stroke-width="0.22" font-weight="normal" xml:space="preserve" >NK cells</text>
<text x="436.5" y="441.1" font-family="Liberation Sans, sans-serif" font-size="9.2" text-anchor="start" fill="#0a0a0a" stroke="#0a0a0a" stroke-width="0.22" font-weight="normal" xml:space="preserve" >CD56<tspan font-size="4.9" dy="-3.40" stroke-width="0.08">bright</tspan></text>
<text x="481.8" y="441.1" font-family="Liberation Sans, sans-serif" font-size="9.2" text-anchor="start" fill="#0a0a0a" stroke="#0a0a0a" stroke-width="0.22" font-weight="normal" xml:space="preserve" >CD56<tspan font-size="4.9" dy="-3.40" stroke-width="0.08">dim</tspan></text>
<text x="80.50" y="470.5" font-family="Liberation Sans, sans-serif" font-size="9.0" text-anchor="end" fill="#0a0a0a" stroke="#0a0a0a" stroke-width="0.22" font-weight="normal" xml:space="preserve" >43.1</text>
<text x="80.50" y="480.2" font-family="Liberation Sans, sans-serif" font-size="9.0" text-anchor="end" fill="#0a0a0a" stroke="#0a0a0a" stroke-width="0.22" font-weight="normal" xml:space="preserve" >9.0</text>
<text x="122.85" y="470.5" font-family="Liberation Sans, sans-serif" font-size="9.0" text-anchor="end" fill="#0a0a0a" stroke="#0a0a0a" stroke-width="0.22" font-weight="normal" xml:space="preserve" >1.6</text>
<text x="122.85" y="480.2" font-family="Liberation Sans, sans-serif" font-size="9.0" text-anchor="end" fill="#0a0a0a" stroke="#0a0a0a" stroke-width="0.22" font-weight="normal" xml:space="preserve" >0.7</text>
<text x="165.20" y="470.5" font-family="Liberation Sans, sans-serif" font-size="9.0" text-anchor="end" fill="#0a0a0a" stroke="#0a0a0a" stroke-width="0.22" font-weight="normal" xml:space="preserve" >1.1</text>
<text x="165.20" y="480.2" font-family="Liberation Sans, sans-serif" font-size="9.0" text-anchor="end" fill="#0a0a0a" stroke="#0a0a0a" stroke-width="0.22" font-weight="normal" xml:space="preserve" >1.1</text>
<text x="207.55" y="470.5" font-family="Liberation Sans, sans-serif" font-size="9.0" text-anchor="end" fill="#0a0a0a" stroke="#0a0a0a" stroke-width="0.22" font-weight="normal" xml:space="preserve" >16.9</text>
<text x="207.55" y="480.2" font-family="Liberation Sans, sans-serif" font-size="9.0" text-anchor="end" fill="#0a0a0a" stroke="#0a0a0a" stroke-width="0.22" font-weight="normal" xml:space="preserve" >5.2</text>
<text x="249.90" y="470.5" font-family="Liberation Sans, sans-serif" font-size="9.0" text-anchor="end" fill="#0a0a0a" stroke="#0a0a0a" stroke-width="0.22" font-weight="normal" xml:space="preserve" >3.0</text>
<text x="249.90" y="480.2" font-family="Liberation Sans, sans-serif" font-size="9.0" text-anchor="end" fill="#0a0a0a" stroke="#0a0a0a" stroke-width="0.22" font-weight="normal" xml:space="preserve" >1.4</text>
<text x="292.25" y="470.5" font-family="Liberation Sans, sans-serif" font-size="9.0" text-anchor="end" fill="#0a0a0a" stroke="#0a0a0a" stroke-width="0.22" font-weight="normal" xml:space="preserve" >7.5</text>
<text x="292.25" y="480.2" font-family="Liberation Sans, sans-serif" font-size="9.0" text-anchor="end" fill="#0a0a0a" stroke="#0a0a0a" stroke-width="0.22" font-weight="normal" xml:space="preserve" >4.6</text>
<text x="334.60" y="470.5" font-family="Liberation Sans, sans-serif" font-size="9.0" text-anchor="end" fill="#0a0a0a" stroke="#0a0a0a" stroke-width="0.22" font-weight="normal" xml:space="preserve" >4.9</text>
<text x="334.60" y="480.2" font-family="Liberation Sans, sans-serif" font-size="9.0" text-anchor="end" fill="#0a0a0a" stroke="#0a0a0a" stroke-width="0.22" font-weight="normal" xml:space="preserve" >2.7</text>
<text x="376.95" y="470.5" font-family="Liberation Sans, sans-serif" font-size="9.0" text-anchor="end" fill="#0a0a0a" stroke="#0a0a0a" stroke-width="0.22" font-weight="normal" xml:space="preserve" >1.3</text>
<text x="376.95" y="480.2" font-family="Liberation Sans, sans-serif" font-size="9.0" text-anchor="end" fill="#0a0a0a" stroke="#0a0a0a" stroke-width="0.22" font-weight="normal" xml:space="preserve" >1.1</text>
<text x="419.30" y="470.5" font-family="Liberation Sans, sans-serif" font-size="9.0" text-anchor="end" fill="#0a0a0a" stroke="#0a0a0a" stroke-width="0.22" font-weight="normal" xml:space="preserve" >2.2</text>
<text x="419.30" y="480.2" font-family="Liberation Sans, sans-serif" font-size="9.0" text-anchor="end" fill="#0a0a0a" stroke="#0a0a0a" stroke-width="0.22" font-weight="normal" xml:space="preserve" >1.7</text>
<text x="461.65" y="470.5" font-family="Liberation Sans, sans-serif" font-size="9.0" text-anchor="end" fill="#0a0a0a" stroke="#0a0a0a" stroke-width="0.22" font-weight="normal" xml:space="preserve" >0.6</text>
<text x="461.65" y="480.2" font-family="Liberation Sans, sans-serif" font-size="9.0" text-anchor="end" fill="#0a0a0a" stroke="#0a0a0a" stroke-width="0.22" font-weight="normal" xml:space="preserve" >0.6</text>
<text x="504.00" y="470.5" font-family="Liberation Sans, sans-serif" font-size="9.0" text-anchor="end" fill="#0a0a0a" stroke="#0a0a0a" stroke-width="0.22" font-weight="normal" xml:space="preserve" >12.4</text>
<text x="504.00" y="480.2" font-family="Liberation Sans, sans-serif" font-size="9.0" text-anchor="end" fill="#0a0a0a" stroke="#0a0a0a" stroke-width="0.22" font-weight="normal" xml:space="preserve" >8.1</text>
<path d="M72.40,427.8 H76.80 M74.60,425.6 V430.0" stroke="#111" stroke-width="0.85" fill="none"/>
<path d="M114.75,427.8 H119.15 M116.95,425.6 V430.0" stroke="#111" stroke-width="0.85" fill="none"/>
<path d="M157.10,427.8 H161.50 M159.30,425.6 V430.0" stroke="#111" stroke-width="0.85" fill="none"/>
<path d="M199.45,436.2 H203.85 M201.65,434.0 V438.4" stroke="#111" stroke-width="0.85" fill="none"/>
<path d="M241.80,436.2 H246.20 M244.00,434.0 V438.4" stroke="#111" stroke-width="0.85" fill="none"/>
<path d="M284.15,436.2 H288.55 M286.35,434.0 V438.4" stroke="#111" stroke-width="0.85" fill="none"/>
<text x="117.15" y="445.4" font-family="Liberation Sans, sans-serif" font-size="5.4" text-anchor="middle" fill="#444" stroke="#444" stroke-width="0" font-weight="normal" xml:space="preserve" >dim</text>
<text x="159.50" y="445.4" font-family="Liberation Sans, sans-serif" font-size="5.4" text-anchor="middle" fill="#444" stroke="#444" stroke-width="0" font-weight="normal" xml:space="preserve" >bright</text>
<text x="244.20" y="445.4" font-family="Liberation Sans, sans-serif" font-size="5.4" text-anchor="middle" fill="#444" stroke="#444" stroke-width="0" font-weight="normal" xml:space="preserve" >dim</text>
<text x="286.55" y="445.4" font-family="Liberation Sans, sans-serif" font-size="5.4" text-anchor="middle" fill="#444" stroke="#444" stroke-width="0" font-weight="normal" xml:space="preserve" >bright</text>
<text x="371.25" y="445.4" font-family="Liberation Sans, sans-serif" font-size="5.4" text-anchor="middle" fill="#444" stroke="#444" stroke-width="0" font-weight="normal" xml:space="preserve" >dim</text>
<text x="413.60" y="445.4" font-family="Liberation Sans, sans-serif" font-size="5.4" text-anchor="middle" fill="#444" stroke="#444" stroke-width="0" font-weight="normal" xml:space="preserve" >bright</text>
</svg>
</body></html>
